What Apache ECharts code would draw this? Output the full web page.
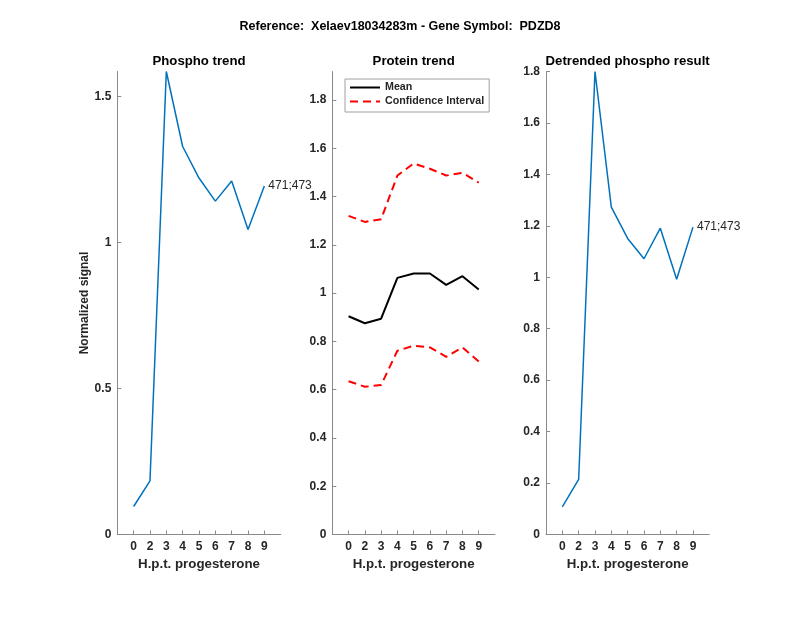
<!DOCTYPE html>
<html>
<head>
<meta charset="utf-8">
<script src="https://cdn.jsdelivr.net/npm/echarts@6/dist/echarts.min.js"></script>
<style>
html,body{margin:0;padding:0;background:#fff}
#chart{width:800px;height:618px}
</style>
</head>
<body>
<div id="chart"></div>
<script>
// hours post progesterone, shown as 9 evenly spaced ticks
const hpt = ['0', '2', '3', '4', '5', '6', '7', '8', '9'];
const phospho = [0.096, 0.184, 1.586, 1.329, 1.221, 1.142, 1.211, 1.045, 1.194];
const proteinMean = [0.904, 0.875, 0.894, 1.063, 1.081, 1.081, 1.034, 1.070, 1.015];
const proteinUpper = [1.320, 1.295, 1.306, 1.487, 1.537, 1.515, 1.487, 1.498, 1.458];
const proteinLower = [0.635, 0.612, 0.619, 0.761, 0.782, 0.775, 0.736, 0.775, 0.717];
const detrended = [0.107, 0.214, 1.800, 1.273, 1.151, 1.072, 1.191, 0.992, 1.195];
const peptide = '471;473';
const yTicks1 = [0, 0.5, 1, 1.5];
const yTicks2 = [0, 0.2, 0.4, 0.6, 0.8, 1, 1.2, 1.4, 1.6, 1.8];
const yTicks3 = [0, 0.2, 0.4, 0.6, 0.8, 1, 1.2, 1.4, 1.6, 1.8];
const yMax = [1.586, 1.918, 1.8];

const font = 'Liberation Sans, Arial, Helvetica, sans-serif';
const ink = '#262626';
const axisGray = '#8a8a8a';
const xPos = hpt.map((h, i) => i + 1);

function pts(vals) {
  return vals.map((v, i) => [xPos[i], v]);
}

const grids = [
  {left: 117.3, top: 71.5, width: 163.4, height: 463},
  {left: 332.3, top: 71.5, width: 162.7, height: 463},
  {left: 546, top: 71.5, width: 163.3, height: 463}
];

function xAxisFor(idx) {
  return {
    type: 'value', gridIndex: idx, min: 0, max: 10,
    name: 'H.p.t. progesterone', nameLocation: 'middle', nameGap: 23,
    nameTextStyle: {fontFamily: font, fontWeight: 'bold', fontSize: 13.3, color: ink},
    axisLine: {show: true, lineStyle: {color: axisGray, width: 1}},
    axisTick: {show: true, inside: true, length: 4, customValues: xPos, lineStyle: {color: axisGray}},
    axisLabel: {
      customValues: xPos, margin: 6,
      fontFamily: font, fontWeight: 'bold', fontSize: 12, color: ink,
      formatter: v => hpt[Math.round(v) - 1] || ''
    },
    splitLine: {show: false}
  };
}

function yAxisFor(idx, ticks, max, name) {
  return {
    type: 'value', gridIndex: idx, min: 0, max: max,
    name: name || '', nameLocation: 'middle', nameGap: 25, nameRotate: 90,
    nameTextStyle: {fontFamily: font, fontWeight: 'bold', fontSize: 12, color: ink},
    axisLine: {show: true, lineStyle: {color: axisGray, width: 1}},
    axisTick: {show: true, inside: true, length: 4, customValues: ticks, lineStyle: {color: axisGray}},
    axisLabel: {
      customValues: ticks, margin: 6,
      fontFamily: font, fontWeight: 'bold', fontSize: 12, color: ink
    },
    splitLine: {show: false}
  };
}

const endLabel = {
  show: true, formatter: peptide, distance: 4,
  fontFamily: font, fontSize: 12, color: ink
};

const titles = [
  ['Reference:  Xelaev18034283m - Gene Symbol:  PDZD8', 400, 26.7, 12.5],
  ['Phospho trend', grids[0].left + grids[0].width / 2, 61, 13.2],
  ['Protein trend', grids[1].left + grids[1].width / 2, 61, 13.2],
  ['Detrended phospho result', grids[2].left + grids[2].width / 2, 61, 13.2]
];

const chart = echarts.init(document.getElementById('chart'), null, {renderer: 'canvas'});
chart.setOption({
  backgroundColor: '#ffffff',
  animation: false,
  graphic: titles.map(t => ({
    type: 'text', x: t[1], y: t[2],
    style: {
      text: t[0], textAlign: 'center', textVerticalAlign: 'middle',
      fontFamily: font, fontWeight: 'bold', fontSize: t[3], fill: '#000'
    }
  })),
  legend: {
    data: ['Mean', 'Confidence Interval'],
    orient: 'vertical', left: 345, top: 79,
    itemWidth: 30, itemHeight: 13, itemGap: 3, itemTextGap: 4,
    padding: [3, 5, 5, 4],
    itemStyle: {opacity: 0},
    borderColor: '#a0a0a0', borderWidth: 1, backgroundColor: '#fff',
    textStyle: {fontFamily: font, fontWeight: 'bold', fontSize: 10.7, color: ink}
  },
  grid: grids,
  xAxis: [xAxisFor(0), xAxisFor(1), xAxisFor(2)],
  yAxis: [
    yAxisFor(0, yTicks1, yMax[0], 'Normalized signal'),
    yAxisFor(1, yTicks2, yMax[1]),
    yAxisFor(2, yTicks3, yMax[2])
  ],
  series: [
    {
      type: 'line', xAxisIndex: 0, yAxisIndex: 0, data: pts(phospho),
      symbol: 'none', lineStyle: {color: '#0072BD', width: 1.5}, itemStyle: {color: '#0072BD'},
      endLabel: endLabel
    },
    {
      name: 'Mean', type: 'line', xAxisIndex: 1, yAxisIndex: 1, data: pts(proteinMean),
      symbol: 'none', lineStyle: {color: '#000', width: 2}, itemStyle: {color: '#000'}
    },
    {
      name: 'Confidence Interval', type: 'line', xAxisIndex: 1, yAxisIndex: 1, data: pts(proteinUpper),
      symbol: 'none', lineStyle: {color: '#ff0000', width: 2, type: [8, 5]}, itemStyle: {color: '#ff0000'}
    },
    {
      name: 'Confidence Interval', type: 'line', xAxisIndex: 1, yAxisIndex: 1, data: pts(proteinLower),
      symbol: 'none', lineStyle: {color: '#ff0000', width: 2, type: [8, 5]}, itemStyle: {color: '#ff0000'}
    },
    {
      type: 'line', xAxisIndex: 2, yAxisIndex: 2, data: pts(detrended),
      symbol: 'none', lineStyle: {color: '#0072BD', width: 1.5}, itemStyle: {color: '#0072BD'},
      endLabel: endLabel
    }
  ]
});
</script>
</body>
</html>
